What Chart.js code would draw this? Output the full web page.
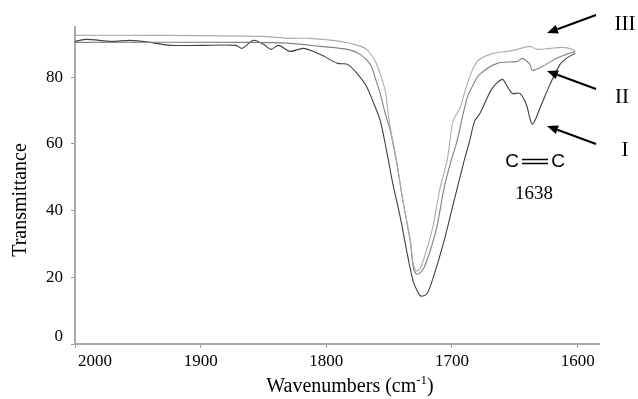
<!DOCTYPE html>
<html>
<head>
<meta charset="utf-8">
<script src="https://cdn.jsdelivr.net/npm/chart.js@4/dist/chart.umd.min.js"></script>
<style>
  body { margin: 0; background: #fff; }
  #wrap { width: 638px; height: 399px; }
</style>
</head>
<body>
<div id="wrap"><canvas id="ctx" width="638" height="399"></canvas></div>
<script>
'use strict';
// spectra: wavenumber (cm-1) and transmittance (%)
const wnI = [2000,1991,1971,1956,1940,1924,1900,1872,1867,1858,1850,1844,1838,1829,1818,1805,1791,1783,1775,1768,1763,1757,1752,1747,1741,1736,1731,1728,1725,1720,1715,1707,1699,1691,1686,1682,1678,1668,1660,1656,1652,1646,1641,1636,1630,1622,1614,1609,1602];
const tI = [90.7,91.3,90.7,91.0,90.4,89.5,89.5,89.5,88.6,91.0,89.8,88.3,89.5,87.7,88.6,86.8,84.1,83.8,80.8,77.2,72.8,66.8,57.8,47.9,37.7,27.8,18.9,16.2,14.4,15.0,19.8,29.9,41.9,53.9,60.8,66.8,68.9,76.6,79.3,77.2,75.1,75.1,71.9,65.9,70.7,77.8,83.8,85.6,87.1];

const wnII = [2000,1860,1829,1805,1783,1773,1765,1761,1757,1753,1749,1744,1739,1733,1731,1728.6,1725.4,1722,1716.7,1711.9,1706.3,1700.8,1696,1688,1683,1678,1664,1648,1644,1638,1636,1625,1617,1609,1602];
const tII = [90.4,90.4,90.1,89.2,88.3,86.8,83.8,79.6,74.9,68.9,63.8,54.2,42.8,30.2,23.4,21.0,21.3,23.1,28.7,35.3,46.7,54.8,60.8,73.7,77.8,80.8,84.1,84.7,85.6,83.8,82.0,83.8,85.6,86.8,87.7];

const wnIII = [2000,1940,1852,1829,1813,1789,1775,1768,1761,1757,1753,1751,1749,1744,1739,1733,1731,1728.6,1725.4,1719.8,1715.1,1709.5,1704,1701.6,1699.2,1693.7,1688,1680,1667.5,1656,1648,1638,1632.5,1622,1612,1604,1602];
const tIII = [92.5,92.5,92.2,91.6,91.6,90.7,89.5,88.3,84.7,80.8,75.7,69.8,64.7,54.8,42.8,30.8,24.3,21.9,22.5,28.7,35.3,46.7,54.8,60.8,66.8,70.7,77.8,84.7,87.1,87.7,88.3,89.2,88.3,88.6,88.9,88.3,87.7];

const seriesNames = ['I', 'II', 'III'];
const seriesColors = ['#404040', '#828282', '#adadad'];
const xTicks = [2000, 1900, 1800, 1700, 1600];
const yTicks = [0, 20, 40, 60, 80];

const toPts = (xs, ys) => xs.map((v, i) => ({x: v, y: ys[i]}));

function arrow(ctx, x1, y1, x2, y2) {
  const ang = Math.atan2(y2 - y1, x2 - x1);
  const hl = 11, hw = 4.5;
  const bx = x2 - hl * Math.cos(ang), by = y2 - hl * Math.sin(ang);
  ctx.beginPath();
  ctx.moveTo(x1, y1);
  ctx.lineTo(bx, by);
  ctx.stroke();
  ctx.beginPath();
  ctx.moveTo(x2, y2);
  ctx.lineTo(bx + hw * Math.sin(ang), by - hw * Math.cos(ang));
  ctx.lineTo(bx - hw * Math.sin(ang), by + hw * Math.cos(ang));
  ctx.closePath();
  ctx.fill();
}

const extras = {
  id: 'extras',
  afterDraw(chart) {
    const {ctx, chartArea: a, scales: {x, y}} = chart;
    ctx.save();
    ctx.fillStyle = '#000';
    ctx.strokeStyle = '#000';
    ctx.font = '17px "Liberation Serif"';
    ctx.textBaseline = 'middle';

    // tick labels (kept inside the axis ends like the original)
    ctx.textAlign = 'right';
    yTicks.forEach(v => {
      const py = Math.min(y.getPixelForValue(v), a.bottom - 7);
      ctx.fillText(String(v), a.left - 12, py);
    });
    ctx.textAlign = 'center';
    xTicks.forEach(v => {
      const label = String(v);
      const w = ctx.measureText(label).width;
      const px = Math.max(x.getPixelForValue(v), a.left + 3 + w / 2);
      ctx.fillText(label, px, a.bottom + 18);
    });

    // axis titles
    ctx.font = '20px "Liberation Serif"';
    ctx.save();
    ctx.translate(21, 200);
    ctx.rotate(-Math.PI / 2);
    ctx.fillText('Transmittance', 0, 0);
    ctx.restore();

    ctx.textAlign = 'left';
    ctx.textBaseline = 'alphabetic';
    const p1 = 'Wavenumbers (cm', p2 = '-1', p3 = ')';
    ctx.font = '20px "Liberation Serif"';
    const w1 = ctx.measureText(p1).width, w3 = ctx.measureText(p3).width;
    ctx.font = '13px "Liberation Serif"';
    const w2 = ctx.measureText(p2).width;
    let sx = 350 - (w1 + w2 + w3) / 2;
    ctx.font = '20px "Liberation Serif"';
    ctx.fillText(p1, sx, 392);
    ctx.font = '13px "Liberation Serif"';
    ctx.fillText(p2, sx + w1, 384);
    ctx.font = '20px "Liberation Serif"';
    ctx.fillText(p3, sx + w1 + w2, 392);

    // series markers
    ctx.textAlign = 'center';
    ctx.textBaseline = 'middle';
    ctx.font = '21px "Liberation Serif"';
    ctx.fillText(seriesNames[2], 625, 24);
    ctx.fillText(seriesNames[1], 622, 97);
    ctx.fillText(seriesNames[0], 625, 150);
    ctx.lineWidth = 2;
    arrow(ctx, 596, 15, 547, 33);
    arrow(ctx, 596, 89, 547, 71);
    arrow(ctx, 596, 144, 547, 126);

    // C=C 1638 note
    ctx.font = '19px "Liberation Sans"';
    ctx.fillText('C', 512, 162);
    ctx.fillText('C', 558, 162);
    ctx.lineWidth = 1.3;
    ctx.beginPath();
    ctx.moveTo(522, 159.5); ctx.lineTo(548, 159.5);
    ctx.moveTo(522, 163.5); ctx.lineTo(548, 163.5);
    ctx.stroke();
    ctx.font = '19px "Liberation Serif"';
    ctx.fillText('1638', 534, 194);
    ctx.restore();
  }
};

const ds = (name, xs, ys, color) => ({
  label: name,
  data: toPts(xs, ys),
  showLine: true,
  borderColor: color,
  borderWidth: 1.1,
  pointRadius: 0,
  tension: 0.3,
  fill: false
});

new Chart(document.getElementById('ctx'), {
  type: 'scatter',
  data: {
    datasets: [
      ds(seriesNames[2], wnIII, tIII, seriesColors[2]),
      ds(seriesNames[1], wnII, tII, seriesColors[1]),
      ds(seriesNames[0], wnI, tI, seriesColors[0])
    ]
  },
  options: {
    responsive: false,
    animation: false,
    devicePixelRatio: 1,
    layout: { padding: { top: 27, right: 39, left: 0, bottom: 0 } },
    plugins: { legend: { display: false }, tooltip: { enabled: false } },
    scales: {
      x: {
        type: 'linear',
        reverse: true,
        min: 1583,
        max: 2000,
        afterBuildTicks: s => { s.ticks = xTicks.map(v => ({value: v})); },
        afterFit: s => { s.height = 55; },
        ticks: { display: false },
        grid: { display: true, drawOnChartArea: false, drawTicks: true, tickLength: 4, color: '#999' },
        border: { display: true, color: '#a8a8a8', width: 2 }
      },
      y: {
        min: 0,
        max: 95,
        afterBuildTicks: s => { s.ticks = yTicks.map(v => ({value: v})); },
        afterFit: s => { s.width = 75; },
        ticks: { display: false },
        grid: { display: true, drawOnChartArea: false, drawTicks: true, tickLength: 4, color: '#999' },
        border: { display: true, color: '#a8a8a8', width: 2 }
      }
    }
  },
  plugins: [extras]
});
</script>
</body>
</html>
